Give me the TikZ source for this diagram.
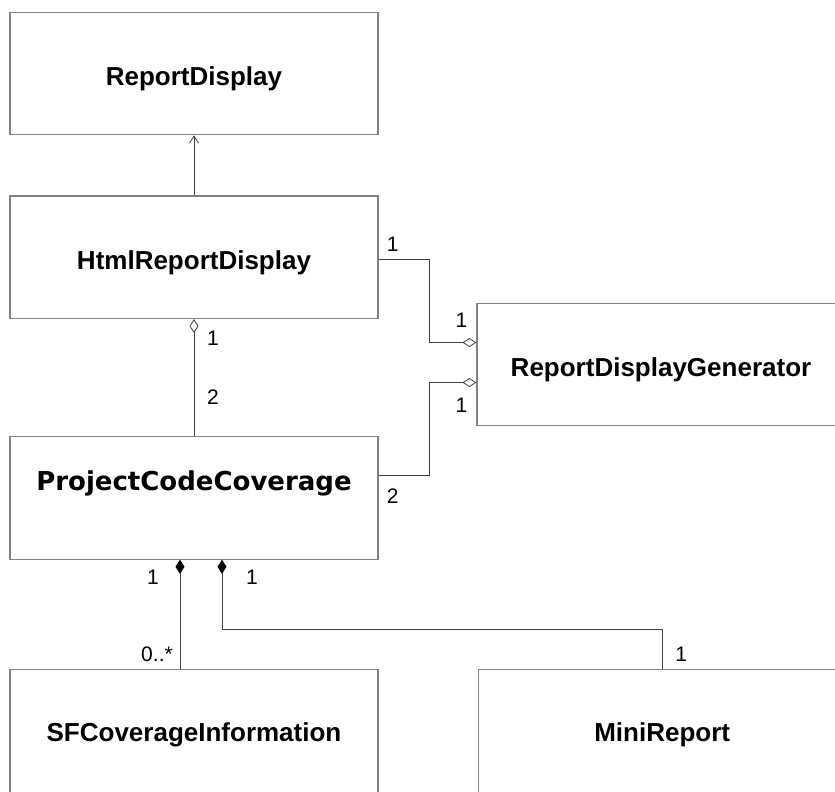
\documentclass[tikz,border=0pt]{standalone}
\usepackage{fontspec}
\setmainfont{Liberation Sans}
\newfontfamily\wideface{DejaVu Sans}
\usetikzlibrary{positioning, arrows.meta}

\begin{document}
\begin{tikzpicture}[
    x=1pt, y=1pt,
    node distance=60pt,
    cls/.style={rectangle, draw=black!50, line width=1.2pt, fill=white,
        minimum width=368pt, minimum height=122.5pt, inner sep=0pt,
        font=\fontsize{26}{30}\selectfont\bfseries,
        text height=28pt, text depth=4pt},
    leaf/.style={cls, minimum height=130pt, text height=26pt, text depth=12pt},
    mult/.style={inner sep=0pt, font=\fontsize{21}{24}\selectfont},
    link/.style={draw=black!75, line width=0.8pt},
    aggr/.style={link, {Diamond[open, fill=white, length=14pt, width=9pt]}-},
    comp/.style={link, {Diamond[color=black, fill=black, length=14pt, width=9pt]}-},
    inherit/.style={link, -{Straight Barb[length=7pt, width=9pt]}}
]
\useasboundingbox (0,0) rectangle (835,-792);

% classes
\node[cls] (display) at (194,-73.5) {ReportDisplay};
\node[cls, below=of display] (html) {HtmlReportDisplay};
\node[cls, below=117pt of html, font=\wideface\fontsize{26}{30}\selectfont\bfseries,
    text height=20pt, text depth=35pt] (pcc) {ProjectCodeCoverage};
\node[leaf, below=109pt of pcc] (sfci) {SFCoverageInformation};
\node[cls] (gen) at (661,-364.5) {ReportDisplayGenerator};
\node[leaf, right=99pt of sfci] (mini) {MiniReport};

% associations
\draw[inherit] (html) -- (display);
\draw[aggr] (html.south) -- (pcc.north);
\draw[aggr] ([yshift=22pt]gen.west) -- ++(-47,0) |- ([yshift=-2pt]html.east);
\draw[aggr] ([yshift=-18pt]gen.west) -- ++(-47,0) |- ([yshift=23pt]pcc.east);
\draw[comp] ([xshift=-14pt]pcc.south) -- ([xshift=-14pt]sfci.north);
\draw[comp] ([xshift=28pt]pcc.south) -- ++(0,-70) -| (mini.north);

% multiplicities
\node[mult] (m-html-gen) at ([shift={(14,13)}]html.east) {1};
\node[mult] (m-gen-html) at ([shift={(-15,44.5)}]gen.west) {1};
\node[mult] (m-gen-pcc) at ([shift={(-15,-40.5)}]gen.west) {1};
\node[mult] (m-pcc-gen) at ([shift={(14,1.5)}]pcc.east) {2};
\node[mult] (m-html-pcc) at ([shift={(19,-19)}]html.south) {1};
\node[mult] (m-pcc-html) at ([shift={(19,39)}]pcc.north) {2};
\node[mult] (m-pcc-sfci) at ([shift={(-41,-18)}]pcc.south) {1};
\node[mult] (m-pcc-mini) at ([shift={(58,-18)}]pcc.south) {1};
\node[mult] (m-sfci) at ([shift={(-37,14)}]sfci.north) {0..*};
\node[mult] (m-mini) at ([shift={(19,14)}]mini.north) {1};
\end{tikzpicture}
\end{document}
